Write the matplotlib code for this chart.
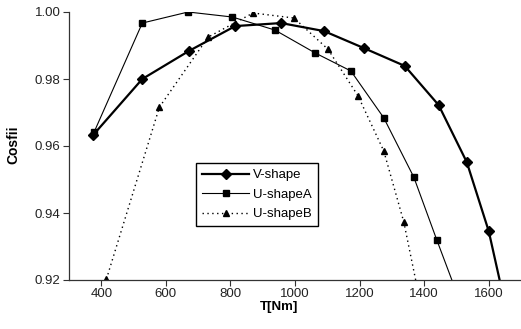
import matplotlib
matplotlib.use("Agg")
import matplotlib.pyplot as plt

plt.rcParams['font.family'] = ['Liberation Sans', 'DejaVu Sans']

# V-shape
t_v = [375, 527, 672, 815, 957, 1090, 1214, 1340, 1445, 1532, 1600, 1657]
c_v = [0.9633, 0.9800, 0.9884, 0.9958, 0.9967, 0.9943, 0.9892, 0.9839, 0.9722, 0.9552, 0.9346, 0.9100]

# U-shapeA
t_a = [378, 527, 669, 806, 938, 1062, 1173, 1275, 1368, 1439, 1525]
c_a = [0.9642, 0.9967, 1.0000, 0.9985, 0.9946, 0.9878, 0.9824, 0.9684, 0.9507, 0.9320, 0.9100]

# U-shapeB
t_b = [416, 580, 731, 870, 997, 1102, 1195, 1275, 1337, 1395]
c_b = [0.9203, 0.9716, 0.9925, 0.9997, 0.9982, 0.9889, 0.9750, 0.9585, 0.9373, 0.9100]

xticks = [400, 600, 800, 1000, 1200, 1400, 1600]
yticks = [0.92, 0.94, 0.96, 0.98, 1.00]

fig = plt.figure(figsize=(5.21, 3.29), dpi=100)
ax = fig.add_axes([69/521, 1-280/329, 1-69/521, (280-12)/329])

ax.plot(t_v, c_v, color='black', lw=1.6, marker='D', ms=5.5, label='V-shape')
ax.plot(t_a, c_a, color='black', lw=0.8, marker='s', ms=4.5, label='U-shapeA')
ax.plot(t_b, c_b, color='black', lw=1.0, dashes=(1, 2.5), marker='^', ms=5, label='U-shapeB')

ax.set_xlim(300, 1700)
ax.set_ylim(0.92, 1.00)
ax.set_xticks(xticks)
ax.set_yticks(yticks)
ax.set_yticklabels([f"{v:.2f}" for v in yticks])
ax.tick_params(direction='out', length=4, width=0.8, labelsize=9.5, pad=2, colors='#333333')
ax.tick_params(labelcolor='#222222')

for s in ['top', 'right']:
    ax.spines[s].set_visible(False)
for s in ['left', 'bottom']:
    ax.spines[s].set_color('#333333')
    ax.spines[s].set_linewidth(0.9)

ax.set_xlabel('T[Nm]', fontsize=9.5, fontweight='bold', labelpad=0)
ax.xaxis.set_label_coords((279-69)/(521-69), -0.08)
ax.set_ylabel('Cosfii', fontsize=10, fontweight='bold')
ax.yaxis.set_label_coords(-0.108, (280-145)/268)

leg = ax.legend(loc='upper left', bbox_to_anchor=(196/521, 1-163/329),
                bbox_transform=fig.transFigure, borderaxespad=0,
                fontsize=9.5, handlelength=3.6, frameon=True, fancybox=False,
                edgecolor='black', framealpha=1, borderpad=0.45, labelspacing=0.55,
                handletextpad=0.3)
leg.get_frame().set_linewidth(1.0)

fig.savefig('out.png', dpi=100)
